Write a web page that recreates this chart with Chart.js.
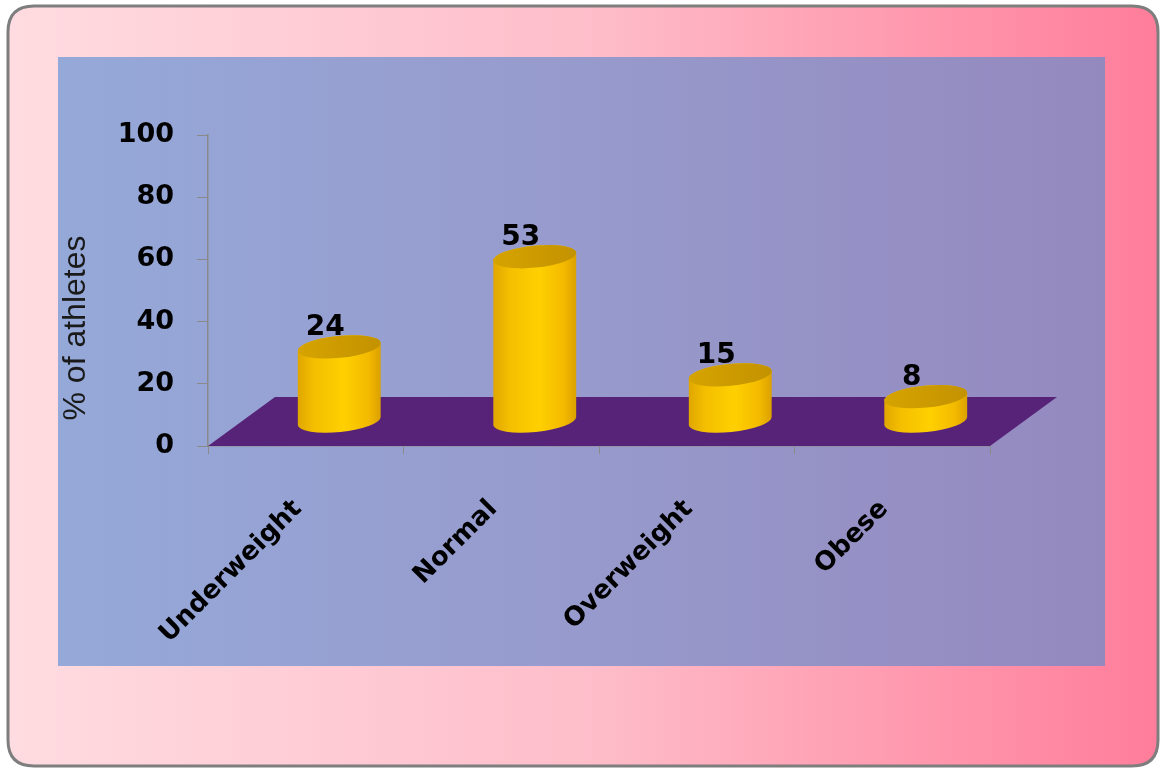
<!DOCTYPE html>
<html>
<head>
<meta charset="utf-8">
<script src="https://cdn.jsdelivr.net/npm/chart.js@4.4.1/dist/chart.umd.min.js"></script>
<style>
  html, body { margin: 0; padding: 0; background: #fff; }
  canvas { display: block; }
</style>
</head>
<body>
<canvas id="bmiChart" width="1162" height="769"></canvas>
<script>
const categories = ['Underweight', 'Normal', 'Overweight', 'Obese'];
const athletePct = [24, 53, 15, 8];
const yTicks = [0, 20, 40, 60, 80, 100];
const yTitle = '% of athletes';

// 3D look: how far the floor goes back
const depth = { dx: 67, dy: -49 };

function roundRect(ctx, x, y, w, h, r) {
  ctx.beginPath();
  ctx.moveTo(x + r, y);
  ctx.lineTo(x + w - r, y);
  ctx.quadraticCurveTo(x + w, y, x + w, y + r);
  ctx.lineTo(x + w, y + h - r);
  ctx.quadraticCurveTo(x + w, y + h, x + w - r, y + h);
  ctx.lineTo(x + r, y + h);
  ctx.quadraticCurveTo(x, y + h, x, y + h - r);
  ctx.lineTo(x, y + r);
  ctx.quadraticCurveTo(x, y, x + r, y);
  ctx.closePath();
}

const backdrop = {
  id: 'backdrop',
  beforeDraw(chart) {
    const ctx = chart.ctx;
    ctx.save();
    // outer pink panel
    let g = ctx.createLinearGradient(8, 0, 1158, 0);
    g.addColorStop(0, '#FFDCE1');
    g.addColorStop(0.5, '#FEBECA');
    g.addColorStop(1, '#FF7D9A');
    roundRect(ctx, 8, 6, 1150, 760, 26);
    ctx.fillStyle = g;
    ctx.fill();
    ctx.lineWidth = 3;
    ctx.strokeStyle = '#7E7E7E';
    ctx.stroke();
    // inner blue plot panel
    g = ctx.createLinearGradient(58, 0, 1105, 0);
    g.addColorStop(0, '#95A9D9');
    g.addColorStop(0.5, '#979ACC');
    g.addColorStop(1, '#9489BF');
    ctx.fillStyle = g;
    ctx.fillRect(58, 57, 1047, 609);
    ctx.restore();
  },
  beforeDatasetsDraw(chart) {
    const ctx = chart.ctx;
    const { x, y } = chart.scales;
    const y0 = y.getPixelForValue(0);
    // purple floor
    ctx.save();
    ctx.beginPath();
    ctx.moveTo(x.left, y0);
    ctx.lineTo(x.right, y0);
    ctx.lineTo(x.right + depth.dx, y0 + depth.dy);
    ctx.lineTo(x.left + depth.dx, y0 + depth.dy);
    ctx.closePath();
    ctx.fillStyle = '#572379';
    ctx.fill();
    ctx.restore();
  },
  afterDatasetsDraw(chart) {
    const ctx = chart.ctx;
    const { x } = chart.scales;
    const meta = chart.getDatasetMeta(0);
    const band = (x.right - x.left) / categories.length;
    const rx = band * 0.213;
    const ry = 11;
    const tilt = -0.1;
    ctx.save();
    meta.data.forEach((bar, i) => {
      const cx = bar.x + depth.dx / 2;
      const baseY = bar.base + depth.dy / 2;
      const topY = bar.y + depth.dy / 2;
      // side of cylinder
      const side = ctx.createLinearGradient(cx - rx, 0, cx + rx, 0);
      side.addColorStop(0, '#E0A600');
      side.addColorStop(0.2, '#F4BF00');
      side.addColorStop(0.55, '#FFD000');
      side.addColorStop(0.85, '#F3BA00');
      side.addColorStop(1, '#DAA000');
      ctx.beginPath();
      ctx.ellipse(cx, baseY, rx, ry, tilt, 0, Math.PI);
      ctx.ellipse(cx, topY, rx, ry, tilt, Math.PI, Math.PI * 2);
      ctx.closePath();
      ctx.fillStyle = side;
      ctx.fill();
      // top cap
      const cap = ctx.createLinearGradient(cx - rx, 0, cx + rx, 0);
      cap.addColorStop(0, '#D6A400');
      cap.addColorStop(1, '#C39200');
      ctx.beginPath();
      ctx.ellipse(cx, topY, rx, ry, tilt, 0, Math.PI * 2);
      ctx.fillStyle = cap;
      ctx.fill();
      // value label
      ctx.fillStyle = '#000';
      ctx.font = 'bold 28px "DejaVu Sans"';
      ctx.textAlign = 'center';
      ctx.textBaseline = 'alphabetic';
      ctx.fillText(String(athletePct[i]), cx - 14, topY - ry - 1);
    });
    ctx.restore();
  },
  afterDraw(chart) {
    const ctx = chart.ctx;
    ctx.save();
    ctx.translate(76, 328);
    ctx.rotate(-Math.PI / 2);
    ctx.fillStyle = '#1a1a1a';
    ctx.font = '32px "Liberation Sans"';
    ctx.textAlign = 'center';
    ctx.textBaseline = 'middle';
    ctx.fillText(yTitle, 0, 0);
    ctx.restore();
  }
};

const ctx = document.getElementById('bmiChart').getContext('2d');
const bmiChart = new Chart(ctx, {
  type: 'bar',
  data: {
    labels: categories,
    datasets: [{
      label: yTitle,
      data: athletePct,
      backgroundColor: 'rgba(0,0,0,0)',
      borderWidth: 0
    }]
  },
  options: {
    responsive: false,
    animation: false,
    layout: { padding: { left: 0, right: 172, top: 135, bottom: 0 } },
    scales: {
      x: {
        afterFit: s => { s.height = 323; },
        grid: { drawOnChartArea: false, offset: true, tickLength: 8, color: '#8A8A8A' },
        border: { display: true, color: '#8A8A8A', width: 1.5 },
        ticks: {
          color: '#000',
          font: { family: 'DejaVu Sans', size: 26, weight: 'bold' },
          minRotation: 45,
          maxRotation: 45,
          padding: 40,
          labelOffset: -8
        }
      },
      y: {
        min: 0,
        max: 100,
        afterFit: s => { s.width = 208; },
        afterBuildTicks: s => { s.ticks = yTicks.map(v => ({ value: v })); },
        grid: { drawOnChartArea: false, tickLength: 11, color: '#8A8A8A' },
        border: { display: true, color: '#8A8A8A', width: 1.5 },
        ticks: {
          color: '#000',
          padding: 23,
          font: { family: 'DejaVu Sans', size: 27, weight: 'bold' }
        }
      }
    },
    plugins: { legend: { display: false }, tooltip: { enabled: false } }
  },
  plugins: [backdrop]
});
</script>
</body>
</html>
